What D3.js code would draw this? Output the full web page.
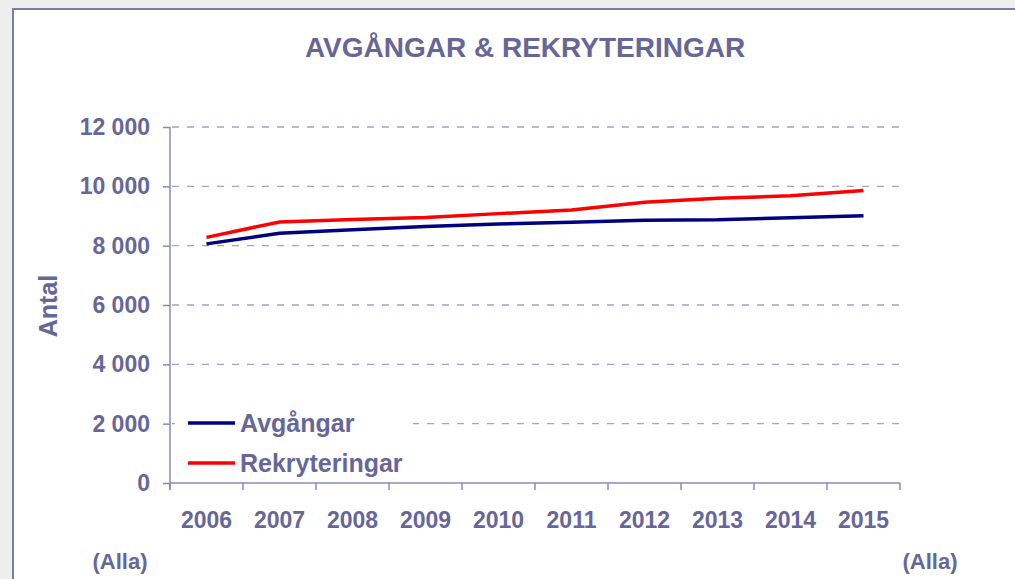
<!DOCTYPE html>
<html>
<head>
<meta charset="utf-8">
<script src="https://cdn.jsdelivr.net/npm/d3@7/dist/d3.min.js"></script>
<style>
  body { margin: 0; background: #eeeeee; }
  text { font-family: Arial, "Liberation Sans", sans-serif; font-weight: bold; fill: #666699; }
</style>
</head>
<body>
<div id="chart"></div>
<script>
// data
var years = ["2006", "2007", "2008", "2009", "2010", "2011", "2012", "2013", "2014", "2015"];
var avgangar = [8060, 8420, 8540, 8650, 8730, 8790, 8860, 8870, 8940, 9010];
var rekryteringar = [8280, 8800, 8880, 8950, 9080, 9200, 9460, 9600, 9680, 9860];
var yTicks = [0, 2000, 4000, 6000, 8000, 10000, 12000];

var svgWidth = 1015;
var svgHeight = 579;

var margin = { top: 127, right: 115, bottom: 96, left: 170 };
var width = svgWidth - margin.left - margin.right;
var height = svgHeight - margin.top - margin.bottom;

var svg = d3.select("#chart")
    .append("svg")
    .attr("width", svgWidth)
    .attr("height", svgHeight);

// white panel with frame line on top and left
svg.append("rect")
    .attr("x", 13).attr("y", 9)
    .attr("width", svgWidth).attr("height", svgHeight)
    .attr("fill", "#ffffff");
svg.append("path")
    .attr("d", `M13,${svgHeight} V9 H${svgWidth}`)
    .attr("fill", "none")
    .attr("stroke", "#7c7cab")
    .attr("stroke-width", 2);

var chartGroup = svg.append("g")
    .attr("transform", `translate(${margin.left}, ${margin.top})`);

var xscale = d3.scaleBand()
    .domain(years)
    .range([0, width]);

var yscale = d3.scaleLinear()
    .domain([0, 12000])
    .range([height, 0]);

// gridlines
chartGroup.selectAll(".grid")
    .data(yTicks.filter(d => d > 0))
    .enter()
    .append("line")
    .attr("x1", 2)
    .attr("x2", width)
    .attr("y1", d => yscale(d))
    .attr("y2", d => yscale(d))
    .attr("stroke", "#a3a3c8")
    .attr("stroke-width", 1.3)
    .attr("stroke-dasharray", "7,8");

var fmt = d => d3.format(",")(d).replace(",", " ");

var leftAxis = d3.axisLeft(yscale).tickValues(yTicks).tickSize(7).tickPadding(13).tickFormat(fmt);
var yAxis = chartGroup.append("g").call(leftAxis);
yAxis.select(".domain").remove();
yAxis.append("line")
    .attr("x1", 0).attr("x2", 0)
    .attr("y1", 0).attr("y2", height + 7);

// x axis: ticks at category boundaries
var xAxis = chartGroup.append("g")
    .attr("transform", `translate(0, ${height})`);
xAxis.append("line")
    .attr("x1", 0).attr("x2", width)
    .attr("y1", 0).attr("y2", 0);
xAxis.selectAll(".xt")
    .data(years.concat(["end"]))
    .enter()
    .append("line")
    .attr("x1", (d, i) => i * xscale.step())
    .attr("x2", (d, i) => i * xscale.step())
    .attr("y1", 0).attr("y2", 7);
xAxis.selectAll("text")
    .data(years)
    .enter()
    .append("text")
    .attr("x", d => xscale(d) + xscale.bandwidth() / 2)
    .attr("y", 45)
    .attr("text-anchor", "middle")
    .style("font-size", "23px")
    .text(d => d);

chartGroup.selectAll("line").filter(function () { return !this.getAttribute("stroke-dasharray"); })
    .attr("stroke", "#8a8ab6")
    .attr("stroke-width", 1.5);
yAxis.selectAll("text")
    .style("font-size", "23px")
    .style("font-family", "Arial, 'Liberation Sans', sans-serif")
    .attr("fill", "#666699");

// lines
var line = d3.line()
    .x((d, i) => xscale(years[i]) + xscale.bandwidth() / 2)
    .y(d => yscale(d));

chartGroup.append("path")
    .datum(avgangar)
    .attr("d", line)
    .attr("fill", "none")
    .attr("stroke", "#000080")
    .attr("stroke-width", 3.5);

chartGroup.append("path")
    .datum(rekryteringar)
    .attr("d", line)
    .attr("fill", "none")
    .attr("stroke", "#ff0000")
    .attr("stroke-width", 3.5);

// legend
var legend = svg.append("g");
legend.append("rect")
    .attr("x", 175).attr("y", 403)
    .attr("width", 238).attr("height", 76)
    .attr("fill", "#ffffff");
var legendItems = [
    { name: "Avgångar", color: "#000080" },
    { name: "Rekryteringar", color: "#ff0000" }
];
legendItems.forEach(function (item, i) {
    var y = 423 + i * 40;
    legend.append("line")
        .attr("x1", 188).attr("x2", 235)
        .attr("y1", y).attr("y2", y)
        .attr("stroke", item.color)
        .attr("stroke-width", 3.5);
    legend.append("text")
        .attr("x", 240)
        .attr("y", y + 9)
        .style("font-size", "25px")
        .text(item.name);
});

// title and labels
svg.append("text")
    .attr("x", 525)
    .attr("y", 57)
    .attr("text-anchor", "middle")
    .style("font-size", "28px")
    .text("AVGÅNGAR & REKRYTERINGAR");

svg.append("text")
    .attr("transform", "translate(57, 306) rotate(-90)")
    .attr("text-anchor", "middle")
    .style("font-size", "25px")
    .text("Antal");

svg.append("text")
    .attr("x", 120).attr("y", 569)
    .attr("text-anchor", "middle")
    .style("font-size", "22px")
    .text("(Alla)");

svg.append("text")
    .attr("x", 930).attr("y", 569)
    .attr("text-anchor", "middle")
    .style("font-size", "22px")
    .text("(Alla)");
</script>
</body>
</html>
